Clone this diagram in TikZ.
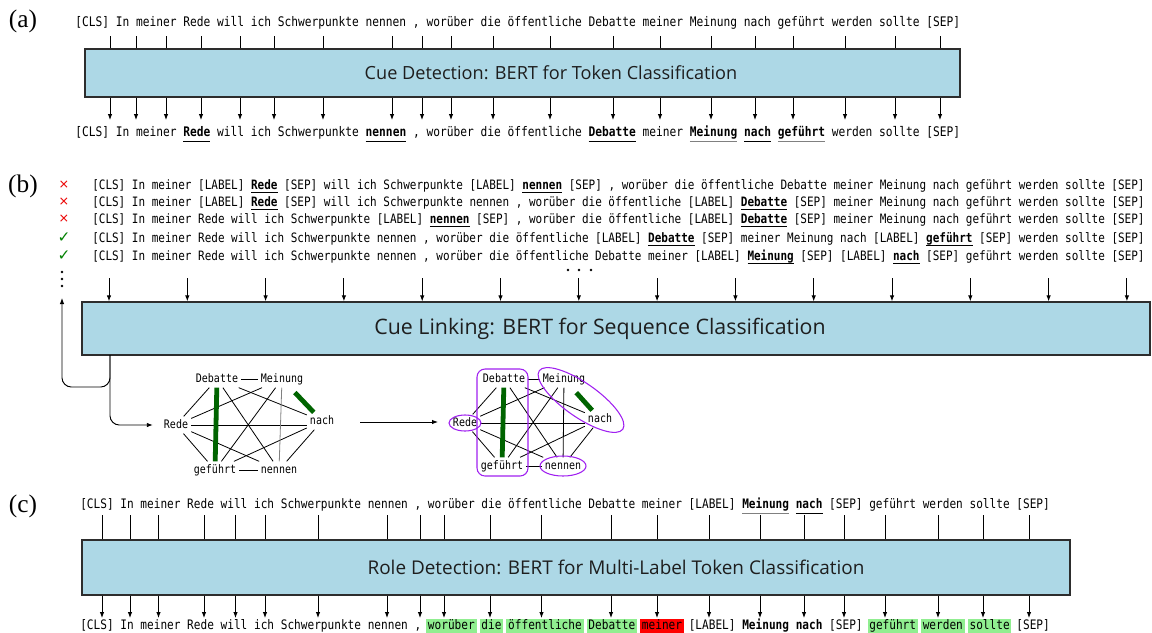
\documentclass[tikz,border=0pt]{standalone}
\usepackage{fontspec}
\usetikzlibrary{arrows.meta,calc,fit}
\newfontfamily\tokfont[FakeStretch=0.85]{DejaVu Sans Mono}
\newfontfamily\lblfont{Open Sans}
\newfontfamily\symfont{DejaVu Sans}
\newfontfamily\serfont{Liberation Serif}
\definecolor{boxblue}{RGB}{173,216,230}
\definecolor{boxline}{RGB}{45,45,45}
\definecolor{hlgreen}{RGB}{144,238,144}
\definecolor{hlred}{RGB}{255,0,0}
\definecolor{dkgreen}{RGB}{0,100,0}
\definecolor{chkgreen}{RGB}{0,128,0}
\definecolor{ellpurple}{RGB}{160,32,240}
\definecolor{crossred}{RGB}{235,0,0}
\newcommand{\myul}[3][4.5pt]{\setbox0=\hbox{#3}\rlap{\color{#2}\rule[-#1]{\wd0}{0.8pt}}\box0\relax}
\newcommand{\ulb}[1]{\myul{black}{\textbf{#1}}}
\newcommand{\ulg}[1]{\myul{gray}{\textbf{#1}}}
\newcommand{\ulbb}[1]{\myul[3.3pt]{black}{\textbf{#1}}}
\newcommand{\hlbox}[2]{\setbox0=\hbox{#2}\rlap{\hskip-1.3pt\color{#1}\rule[-3.1pt]{\dimexpr\wd0+2.6pt\relax}{10.4pt}}\box0\relax}
\newcommand{\hlg}[1]{\hlbox{hlgreen}{#1}}
\newcommand{\hlr}[1]{\hlbox{hlred}{#1}}
\begin{document}
\begin{tikzpicture}[x=0.75pt,y=-0.75pt,
  tok/.style={font=\tokfont\fontsize{9.9}{11}\selectfont, inner sep=0pt, anchor=base west},
  tokb/.style={tok, font=\tokfont\fontsize{9.7}{11}\selectfont},
  tokc/.style={tok, font=\tokfont\fontsize{9.8}{11}\selectfont},
  bertbox/.style={draw=boxline, line width=1pt, fill=boxblue, inner sep=0pt},
  lbl/.style={font=\lblfont, text={rgb,255:red,30;green,30;blue,30}},
  panel/.style={font=\serfont\fontsize{19}{21}\selectfont},
  tickln/.style={line width=0.7pt},
  arr/.style={line width=0.7pt, -{Latex[length=4.5pt,width=3.4pt]}},
  gnode/.style={font=\tokfont\fontsize{8.8}{10}\selectfont, inner xsep=2.2pt, inner ysep=2pt, text height=6.6pt, text depth=2pt},
  gedge/.style={line width=0.6pt},
  gthick/.style={line width=3.6pt, dkgreen},
  purp/.style={draw=ellpurple, line width=0.8pt},
  symmark/.style={font=\symfont\fontsize{9.5}{10}\selectfont},
  chkmark/.style={font=\symfont\fontsize{11.5}{12}\selectfont}
]
\useasboundingbox (0,0) rectangle (1152,632);

% ---------------- (a) ----------------
\node[panel] (pa) at (23,21) {(a)};
\node[tok] (ta) at (75,26) {[CLS] In meiner Rede will ich Schwerpunkte nennen , worüber die öffentliche Debatte meiner Meinung nach geführt werden sollte [SEP]};
\coordinate (a1) at (85,49);
\coordinate (a2) at (960,97);
\node[bertbox, fit=(a1)(a2)] (boxA) {};
\node[lbl, font=\lblfont\fontsize{13.6}{15}\selectfont] (labA) at (551,73) {Cue Detection: BERT for Token Classification};
\node[tok] (ba) at (75,136) {[CLS] In meiner \ulb{Rede} will ich Schwerpunkte \ulb{nennen} , worüber die öffentliche \ulb{Debatte} meiner \ulg{Meinung} \ulb{nach} \ulg{geführt} werden sollte [SEP]};
\foreach \x [count=\i] in {110,136,166,201,240,274,323,392,422,451,493,550,613,660,711,755,793,845,895,940}{
  \coordinate (at\i) at (\x,36);
  \coordinate (ab\i) at (\x,120);
  \draw[tickln] (at\i) -- (at\i |- boxA.north);
  \draw[arr] (at\i |- boxA.south) -- (ab\i);
}

% ---------------- (b) ----------------
\node[panel] (pb) at (23,186) {(b)};
\node[symmark, text=crossred] (m1) at (64,185) {×};
\node[symmark, text=crossred] (m2) at (64,202) {×};
\node[symmark, text=crossred] (m3) at (64,219) {×};
\node[chkmark, text=chkgreen] (m4) at (64,238) {✓};
\node[chkmark, text=chkgreen] (m5) at (64,256) {✓};
\node[tokb] (r1) at (92,189) {[CLS] In meiner [LABEL] \ulbb{Rede} [SEP] will ich Schwerpunkte [LABEL] \ulbb{nennen} [SEP] , worüber die öffentliche Debatte meiner Meinung nach geführt werden sollte [SEP]};
\node[tokb] (r2) at (92,206) {[CLS] In meiner [LABEL] \ulbb{Rede} [SEP] will ich Schwerpunkte nennen , worüber die öffentliche [LABEL] \ulbb{Debatte} [SEP] meiner Meinung nach geführt werden sollte [SEP]};
\node[tokb] (r3) at (92,223) {[CLS] In meiner Rede will ich Schwerpunkte [LABEL] \ulbb{nennen} [SEP] , worüber die öffentliche [LABEL] \ulbb{Debatte} [SEP] meiner Meinung nach geführt werden sollte [SEP]};
\node[tokb] (r4) at (92,242) {[CLS] In meiner Rede will ich Schwerpunkte nennen , worüber die öffentliche [LABEL] \ulbb{Debatte} [SEP] meiner Meinung nach [LABEL] \ulbb{geführt} [SEP] werden sollte [SEP]};
\node[tokb] (r5) at (92,260) {[CLS] In meiner Rede will ich Schwerpunkte nennen , worüber die öffentliche Debatte meiner [LABEL] \ulbb{Meinung} [SEP] [LABEL] \ulbb{nach} [SEP] geführt werden sollte [SEP]};
\foreach \y in {272,279,286}{\fill (62,\y) circle (1.3);}
\foreach \x in {568,579,591}{\fill (\x,270) circle (1.3);}
\coordinate (b1) at (82,302);
\coordinate (b2) at (1150,355);
\node[bertbox, fit=(b1)(b2)] (boxB) {};
\node[lbl, font=\lblfont\fontsize{16}{18}\selectfont] (labB) at (600,329) {Cue Linking: BERT for Sequence Classification};
\foreach \k in {0,...,13}{
  \coordinate (bt\k) at ({109+78.3*\k},278);
  \draw[arr] (bt\k) -- (bt\k |- boxB.north);
}

% graph 1
\node[gnode] (d1) at (217,379) {Debatte};
\node[gnode] (m1g) at (282,379) {Meinung};
\node[gnode] (r1g) at (176,425) {Rede};
\node[gnode] (n1g) at (322,421) {nach};
\node[gnode] (g1g) at (215,470) {geführt};
\node[gnode] (e1g) at (279,470) {nennen};
\foreach \a/\b in {r1g/d1, r1g/m1g, r1g/g1g, r1g/e1g, d1/m1g, d1/n1g, d1/e1g, m1g/g1g, n1g/g1g, n1g/e1g, g1g/e1g}{
  \draw[gedge] (\a) -- (\b);
}
\draw[gedge] (r1g.east) -- (r1g.east -| n1g.west);
\draw[gedge, gray] (m1g) -- (e1g);
\draw[gthick] (d1) -- (g1g);
\draw[gthick, shorten <=5pt] (m1g) -- (n1g);

% feedback
\coordinate (fbs) at (110,355);
\coordinate (fbj) at (110,387);
\coordinate (fbe) at (62,298);
\draw[arr, rounded corners=7pt] (fbs) -- (fbj) -| (fbe);
\draw[arr, rounded corners=7pt, shorten >=6pt] (fbs) |- (r1g);

% arrow between graphs
\coordinate (ga1) at (360,422);
\coordinate (ga2) at (438,422);
\draw[arr] (ga1) -- (ga2);

% graph 2
\node[gnode] (d2) at (504,379) {Debatte};
\node[gnode] (m2g) at (564,379) {Meinung};
\node[gnode] (r2g) at (465,423) {Rede};
\node[gnode] (n2g) at (600,419) {nach};
\node[gnode] (g2g) at (502,466) {geführt};
\node[gnode] (e2g) at (563,466) {nennen};
\foreach \a/\b in {r2g/d2, r2g/m2g, r2g/g2g, r2g/e2g, d2/m2g, d2/n2g, d2/e2g, m2g/g2g, m2g/e2g, n2g/g2g, n2g/e2g, g2g/e2g}{
  \draw[gedge] (\a) -- (\b);
}
\draw[gedge] (r2g.east) -- (r2g.east -| n2g.west);
\draw[gthick] (d2) -- (g2g);
\draw[gthick, shorten <=5pt] (m2g) -- (n2g);
\draw[purp] (r2g.center) ellipse (16 and 8);
\draw[purp, rounded corners=6pt] (477,369) rectangle (528,476);
\draw[purp, rotate around={-35:(581,400)}] (581,400) ellipse (51 and 17);
\draw[purp] (e2g.center) ellipse (23 and 10);

% ---------------- (c) ----------------
\node[panel] (pc) at (23,506) {(c)};
\node[tokc] (tc) at (80,508) {[CLS] In meiner Rede will ich Schwerpunkte nennen , worüber die öffentliche Debatte meiner [LABEL] \ulg{Meinung} \ulb{nach} [SEP] geführt werden sollte [SEP]};
\coordinate (c1) at (82,540);
\coordinate (c2) at (1070,595);
\node[bertbox, fit=(c1)(c2)] (boxC) {};
\node[lbl, font=\lblfont\fontsize{14.2}{16}\selectfont] (labC) at (616,567) {Role Detection: BERT for Multi-Label Token Classification};
\node[tokc] (bc) at (80,629) {[CLS] In meiner Rede will ich Schwerpunkte nennen , \hlg{worüber} \hlg{die} \hlg{öffentliche} \hlg{Debatte} \hlr{meiner} [LABEL] \textbf{Meinung} \textbf{nach} [SEP] \hlg{geführt} \hlg{werden} \hlg{sollte} [SEP]};
\foreach \x [count=\i] in {102,130,158.5,204,235.5,265,318,387,420,444,490,541.5,611,657,709,760,804,844,885,938,983,1029}{
  \coordinate (ct\i) at (\x,515);
  \coordinate (cb\i) at (\x,618);
  \draw[tickln] (ct\i) -- (ct\i |- boxC.north);
  \draw[arr] (ct\i |- boxC.south) -- (cb\i);
}
\end{tikzpicture}
\end{document}
